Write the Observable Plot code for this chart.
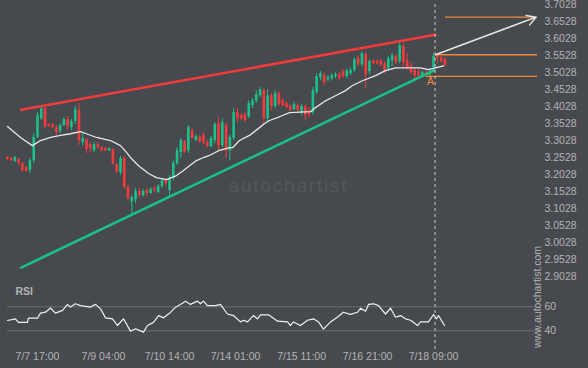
<!DOCTYPE html>
<html><head><meta charset="utf-8">
<script src="https://cdn.jsdelivr.net/npm/d3@7"></script>
<script src="https://cdn.jsdelivr.net/npm/@observablehq/plot@0.6"></script>
<style>
html,body{margin:0;padding:0;background:#46494e;}
#chart{position:relative;width:588px;height:368px;overflow:hidden;background:#46494e;}
#chart svg{position:absolute;left:0;top:0;}
</style></head><body><div id="chart"></div>
<script>
const yTickLabels = ["2.9028","2.9528","3.0028","3.0528","3.1028","3.1528","3.2028","3.2528","3.3028","3.3528","3.4028","3.4528","3.5028","3.5528","3.6028","3.6528","3.7028"];
const xTickHours = [0,35,70,105,140,175,210];
const xTickLabels = ["7/7 17:00","7/9 04:00","7/10 14:00","7/14 01:00","7/15 11:00","7/16 21:00","7/18 09:00"];
const rsiTicks = [40,60];

const candleHours = d3.range(-16, 217, 2);
const open = [3.254,3.251,3.242,3.248,3.236,3.224,3.216,3.245,3.313,3.368,3.398,3.351,3.351,3.342,3.330,3.348,3.366,3.342,3.360,3.392,3.298,3.307,3.292,3.274,3.292,3.283,3.280,3.274,3.277,3.233,3.210,3.251,3.166,3.124,3.130,3.154,3.142,3.157,3.148,3.163,3.151,3.169,3.186,3.157,3.192,3.236,3.269,3.301,3.274,3.333,3.304,3.313,3.319,3.298,3.286,3.304,3.354,3.289,3.348,3.274,3.310,3.386,3.377,3.380,3.374,3.407,3.421,3.436,3.451,3.368,3.436,3.404,3.442,3.421,3.413,3.404,3.395,3.407,3.386,3.404,3.392,3.386,3.445,3.489,3.495,3.483,3.486,3.492,3.498,3.507,3.492,3.501,3.510,3.545,3.527,3.557,3.507,3.539,3.536,3.539,3.530,3.515,3.539,3.551,3.536,3.580,3.539,3.524,3.510,3.507,3.495,3.504,3.498,3.507,3.551,3.548,3.542];
const high = [3.257,3.254,3.257,3.251,3.239,3.227,3.251,3.324,3.386,3.407,3.404,3.354,3.354,3.348,3.354,3.371,3.374,3.366,3.404,3.413,3.324,3.310,3.298,3.298,3.298,3.286,3.283,3.283,3.280,3.236,3.257,3.257,3.172,3.142,3.163,3.163,3.160,3.163,3.166,3.169,3.174,3.192,3.192,3.201,3.245,3.283,3.310,3.304,3.348,3.342,3.321,3.319,3.327,3.304,3.316,3.357,3.371,3.368,3.357,3.319,3.398,3.398,3.383,3.389,3.421,3.427,3.451,3.460,3.457,3.454,3.442,3.451,3.448,3.427,3.418,3.410,3.416,3.413,3.410,3.410,3.401,3.460,3.501,3.507,3.504,3.495,3.501,3.504,3.504,3.513,3.515,3.518,3.548,3.554,3.565,3.563,3.542,3.542,3.542,3.542,3.536,3.551,3.560,3.557,3.592,3.589,3.560,3.533,3.518,3.515,3.510,3.510,3.510,3.560,3.557,3.551,3.548];
const low = [3.245,3.242,3.239,3.230,3.210,3.210,3.207,3.236,3.310,3.363,3.339,3.342,3.339,3.319,3.324,3.345,3.333,3.333,3.351,3.289,3.289,3.266,3.266,3.269,3.277,3.271,3.271,3.271,3.230,3.207,3.201,3.160,3.127,3.089,3.118,3.136,3.136,3.139,3.145,3.151,3.148,3.163,3.169,3.142,3.186,3.230,3.251,3.266,3.266,3.307,3.301,3.295,3.292,3.283,3.283,3.295,3.274,3.283,3.251,3.245,3.304,3.357,3.363,3.357,3.368,3.398,3.413,3.430,3.348,3.357,3.392,3.398,3.404,3.404,3.398,3.389,3.392,3.386,3.377,3.363,3.371,3.380,3.439,3.480,3.466,3.477,3.480,3.486,3.480,3.486,3.486,3.495,3.504,3.521,3.521,3.457,3.498,3.527,3.527,3.521,3.501,3.510,3.521,3.527,3.530,3.521,3.510,3.498,3.486,3.489,3.489,3.492,3.492,3.504,3.530,3.533,3.521];
const close = [3.248,3.245,3.254,3.236,3.216,3.213,3.245,3.313,3.377,3.398,3.345,3.345,3.342,3.327,3.348,3.366,3.345,3.360,3.395,3.304,3.310,3.277,3.280,3.292,3.283,3.274,3.274,3.280,3.236,3.210,3.251,3.166,3.133,3.136,3.154,3.142,3.154,3.148,3.160,3.157,3.169,3.186,3.177,3.192,3.236,3.274,3.304,3.269,3.342,3.310,3.316,3.301,3.298,3.286,3.310,3.351,3.289,3.357,3.274,3.313,3.386,3.368,3.368,3.363,3.413,3.421,3.439,3.454,3.368,3.436,3.404,3.442,3.410,3.407,3.401,3.392,3.410,3.392,3.404,3.377,3.380,3.451,3.492,3.501,3.474,3.489,3.495,3.498,3.486,3.492,3.510,3.510,3.542,3.527,3.560,3.498,3.536,3.530,3.530,3.527,3.510,3.545,3.554,3.533,3.583,3.533,3.515,3.504,3.495,3.495,3.504,3.498,3.507,3.551,3.545,3.536,3.524];

const maHours = [-15.9,-9,-2.7,1.6,6.9,12.2,17.5,22.8,26,31.3,38.7,44,47.2,49.8,53.6,58.9,63.1,68.4,73.7,77.4,80.6,84.3,88,91.2,96,101.8,103.4,107.1,112.4,117.7,120.4,123,128.3,133.6,144.8,147.4,152.7,158,163.3,167,172.3,179.2,184.5,189.8,195.1,203.1,207.3,211,215.3];
const maValues = [3.345,3.313,3.289,3.304,3.313,3.319,3.324,3.330,3.324,3.313,3.304,3.289,3.269,3.251,3.230,3.207,3.195,3.189,3.201,3.216,3.230,3.245,3.254,3.260,3.274,3.283,3.283,3.304,3.319,3.342,3.354,3.363,3.374,3.386,3.389,3.401,3.421,3.436,3.451,3.466,3.480,3.495,3.510,3.518,3.518,3.518,3.513,3.518,3.524];

const rsiHours = [-15.9,-11.7,-10.1,-5.3,-4.8,0,1.6,4.2,6.9,9.5,13.3,15.9,17.5,20.1,22.8,28.1,30.8,33.4,36.1,39.8,42.4,45.6,49.3,52,56.2,58.3,61.5,64.2,66.8,70.5,73.2,75.8,78.5,81.1,84.8,86.4,88,90.1,94.4,97,100.7,103.9,107.6,109.2,111.3,114.5,116.6,118.2,122.5,127.3,132.6,134.1,135.7,139.4,143.2,146.3,149,151.6,155.4,159.1,162.2,165.9,169.7,171.3,173.9,175.5,178.2,180.8,184.5,187.2,189.8,192.5,195.1,197.8,201.5,203.1,207.3,210,211.5,212.6,215.8];
const rsiValues = [48.6,50,47,47,50.5,50.5,54.7,55.5,59,54.7,57,62,59.8,62.5,61,59.8,62,58.3,50.8,50,44.4,50,39.7,41.7,38.9,44.4,47,52.7,50.8,55.3,59.7,62,64.7,62,64.7,62.5,64.7,61,61,62,54,52.7,47.4,48.8,47.4,52.7,50,53.3,53.3,48,47.4,44.4,47.4,44.4,48.8,50,47.4,41.4,47.4,51.5,55.5,53.7,55.5,58.8,56.3,62,62.5,61,54,58.8,51.3,52.7,50,48.8,44.4,47.4,47.4,53.6,50,52.7,44.4];

const resistanceHours = [-8.6, 210.9];
const resistancePrices = [3.3949, 3.6154];
const supportHours = [-8.6, 210.0];
const supportPrices = [2.930, 3.510];
const levelPrices = [3.6675, 3.5566, 3.4928];
const levelStartHours = [216.3, 211.0, 206.2];
const levelEndHour = 265.1;
const arrowHours = [211.0, 264.3];
const arrowPrices = [3.5566, 3.6673];
const currentHour = 210.8;
const patternLabel = "A";
const patternHour = 208.3;
const patternPrice = 3.4775;

const RED = "#f23b3c", GREEN = "#19c288", ORANGE = "#f2873f", TXT = "#b3b3b3";
const FONT = "'Liberation Sans', Arial, sans-serif";

const candles = candleHours.map((h, i) => ({h, o: open[i], hi: high[i], lo: low[i], c: close[i]}));
const up = candles.filter(d => d.c >= d.o), down = candles.filter(d => d.c < d.o);
const ma = maHours.map((h, i) => ({h, v: maValues[i]}));
const rsi = rsiHours.map((h, i) => ({h, v: rsiValues[i]}));
const levels = levelPrices.map((p, i) => ({p, x1: levelStartHours[i], x2: levelEndHour}));
const trend = (hs, ps) => hs.map((h, i) => ({h, p: ps[i]}));

const xScale = {domain: [-16, 216], range: [6.8, 444.4]};

const main = Plot.plot({
  width: 588, height: 368,
  marginLeft: 0, marginTop: 0, marginRight: 44, marginBottom: 0,
  style: {background: "transparent", color: TXT, fontFamily: FONT, fontSize: "10.5px"},
  x: {...xScale, axis: null, label: null},
  y: {domain: [2.9028, 3.7028], range: [276.3, 4.6], axis: null, label: null},
  marks: [
    Plot.text(["autochartist"], {text: d => d, frameAnchor: "top-left", dx: 288, dy: 185, fill: "#55585d", fontSize: 19, fontWeight: 300, textAnchor: "middle", lineAnchor: "middle", className: "wm"}),
    Plot.axisY({anchor: "right", label: null, ticks: yTickLabels.map(Number), tickFormat: d => d.toFixed(4), tickSize: 0, tickPadding: 0, fill: TXT, fontSize: 10.5}),
    Plot.ruleX(up, {x: "h", y1: "lo", y2: "hi", stroke: GREEN, strokeWidth: 1}),
    Plot.ruleX(down, {x: "h", y1: "lo", y2: "hi", stroke: RED, strokeWidth: 1}),
    Plot.ruleX(up, {x: "h", y1: "o", y2: "c", stroke: GREEN, strokeWidth: 2.6}),
    Plot.ruleX(down, {x: "h", y1: "o", y2: "c", stroke: RED, strokeWidth: 2.6}),
    Plot.line(ma, {x: "h", y: "v", stroke: "#e8e8e8", strokeWidth: 1.3}),
    Plot.line(trend(resistanceHours, resistancePrices), {x: "h", y: "p", stroke: RED, strokeWidth: 2.6}),
    Plot.line(trend(supportHours, supportPrices), {x: "h", y: "p", stroke: GREEN, strokeWidth: 2.6}),
    Plot.ruleY(levels, {y: "p", x1: "x1", x2: "x2", stroke: ORANGE, strokeWidth: 1.3}),
    Plot.arrow([0], {x1: () => arrowHours[0], y1: () => arrowPrices[0], x2: () => arrowHours[1], y2: () => arrowPrices[1], stroke: "#e6e6e6", strokeWidth: 1.5, headLength: 10, bend: 0}),
    Plot.text([patternLabel], {text: d => d, x: () => patternHour, y: () => patternPrice, fill: ORANGE, fontSize: 11})
  ]
});

const lower = Plot.plot({
  width: 588, height: 368,
  marginLeft: 7, marginTop: 4, marginRight: 47, marginBottom: 18,
  style: {background: "transparent", color: TXT, fontFamily: FONT, fontSize: "10.5px"},
  x: {...xScale, axis: null, label: null},
  y: {domain: [40, 60], range: [330.3, 306.3], axis: null, label: null},
  marks: [
    Plot.ruleY(rsiTicks, {stroke: "#6b6e73", strokeWidth: 1}),
    Plot.axisY({anchor: "right", label: null, ticks: rsiTicks, tickSize: 0, tickPadding: 3, fill: TXT, fontSize: 10.5}),
    Plot.axisX({label: null, ticks: xTickHours, tickFormat: d => xTickLabels[xTickHours.indexOf(d)], tickSize: 0, tickPadding: 2, fill: TXT, fontSize: 10.5}),
    Plot.line(rsi, {x: "h", y: "v", stroke: "#f0f0f0", strokeWidth: 1.2}),
    Plot.ruleX([currentHour], {stroke: "#c9c9c9", strokeWidth: 1, strokeDasharray: "3,3"}),
    Plot.text(["RSI"], {text: d => d, frameAnchor: "top-left", dx: 8, dy: 287, fill: TXT, fontSize: 10.5, fontWeight: "bold", textAnchor: "start", lineAnchor: "middle"}),
    Plot.text(["www.autochartist.com"], {text: d => d, frameAnchor: "top-left", dx: 530, dy: 292.5, rotate: -90, fill: TXT, fontSize: 10.5, textAnchor: "middle", lineAnchor: "middle"})
  ]
});

d3.select(main).selectAll(".wm text").style("letter-spacing", "1.8px");

const chart = document.getElementById("chart");
chart.appendChild(main);
chart.appendChild(lower);
</script></body></html>
